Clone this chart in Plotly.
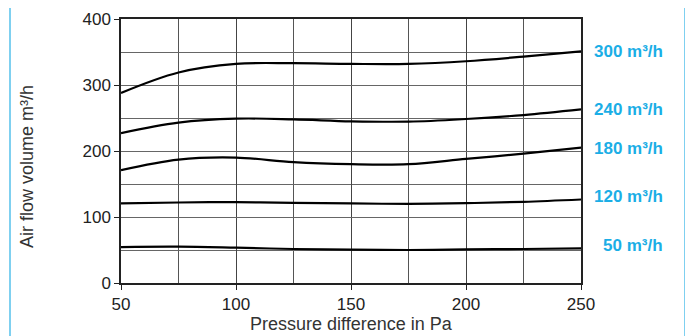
import plotly.graph_objects as go

pressure = [50, 75, 100, 125, 150, 175, 200, 225, 250]
flow_300 = [288, 319, 332, 333, 332, 332, 336, 343, 351]
flow_240 = [227, 243, 249, 248, 245, 244.5, 248.5, 254.5, 263]
flow_180 = [171, 187, 190, 183, 180, 180, 188, 196, 205]
flow_120 = [120.5, 122, 122.5, 121.5, 120.5, 120, 121, 123, 126.5]
flow_50 = [54.5, 55, 53.5, 51.5, 50.5, 50, 51, 51.5, 52.5]

series = [
    ("300 m³/h", flow_300),
    ("240 m³/h", flow_240),
    ("180 m³/h", flow_180),
    ("120 m³/h", flow_120),
    ("50 m³/h", flow_50),
]
label_y = [351, 263, 204, 131, 57]

x_ticks = [50, 100, 150, 200, 250]
y_ticks = [0, 100, 200, 300, 400]

FONT = "Liberation Sans, Arial, sans-serif"
BLUE = "#1BAEE6"

fig = go.Figure()
for name, vals in series:
    fig.add_trace(go.Scatter(
        x=pressure, y=vals, mode="lines", name=name,
        line=dict(color="black", width=2.2, shape="spline", smoothing=1.0),
        showlegend=False, hoverinfo="skip",
    ))

# page body has an 8px margin, so the figure is offset by 8px
OFF = 8
W, H = 693 - OFF, 336 - OFF
L, T = 121 - OFF, 19 - OFF
R = W - (581 - OFF)
B = H - (283 - OFF)
pw = W - L - R
ph = H - T - B

for (name, _), ly in zip(series, label_y):
    fig.add_annotation(
        x=(665 - 121) / pw, xref="paper", y=ly, yref="y",
        text=f"<b>{name}</b>", showarrow=False, xanchor="right", yanchor="middle",
        font=dict(family=FONT, size=17, color=BLUE),
    )

# axis titles
fig.add_annotation(
    x=(351 - 121) / pw, xref="paper", y=(283 - 324) / ph, yref="paper",
    text="Pressure difference in Pa", showarrow=False, xanchor="center", yanchor="middle",
    font=dict(family=FONT, size=18, color="#333"),
)
fig.add_annotation(
    x=(27 - 121) / pw, xref="paper", y=(283 - 167) / ph, yref="paper",
    text="Air flow volume m³/h", showarrow=False, xanchor="center", yanchor="middle",
    textangle=-90, font=dict(family=FONT, size=18, color="#333"),
)

# blue frame lines
for px in (10, 685):
    fig.add_shape(type="line", xref="paper", yref="paper",
                  x0=(px - 121) / pw, x1=(px - 121) / pw, y0=-1, y1=2,
                  line=dict(color="#7FD0F0", width=2))

fig.update_layout(
    width=W, height=H,
    margin=dict(l=L, r=R, t=T, b=B, autoexpand=False),
    paper_bgcolor="white", plot_bgcolor="white",
    font=dict(family=FONT, color="#222"),
)
fig.update_xaxes(
    range=[50, 250], tickvals=x_ticks, ticks="outside", ticklen=5, tickcolor="#222",
    showgrid=True, gridcolor="#444", gridwidth=1,
    minor=dict(dtick=25, tick0=50, showgrid=True, gridcolor="#555", gridwidth=1, ticks=""),
    showline=True, linecolor="#222", linewidth=1.5, mirror=True,
    tickfont=dict(size=17, color="#222"), automargin=False,
    zeroline=False,
)
fig.update_yaxes(
    range=[0, 400], tickvals=y_ticks, ticks="outside", ticklen=5, tickcolor="#222",
    showgrid=True, gridcolor="#666", gridwidth=1,
    minor=dict(dtick=50, tick0=0, showgrid=True, gridcolor="#666", gridwidth=1, ticks=""),
    showline=True, linecolor="#222", linewidth=1.5, mirror=True,
    tickfont=dict(size=17, color="#222"), automargin=False,
    zeroline=False,
)

fig.write_html("out.html")
